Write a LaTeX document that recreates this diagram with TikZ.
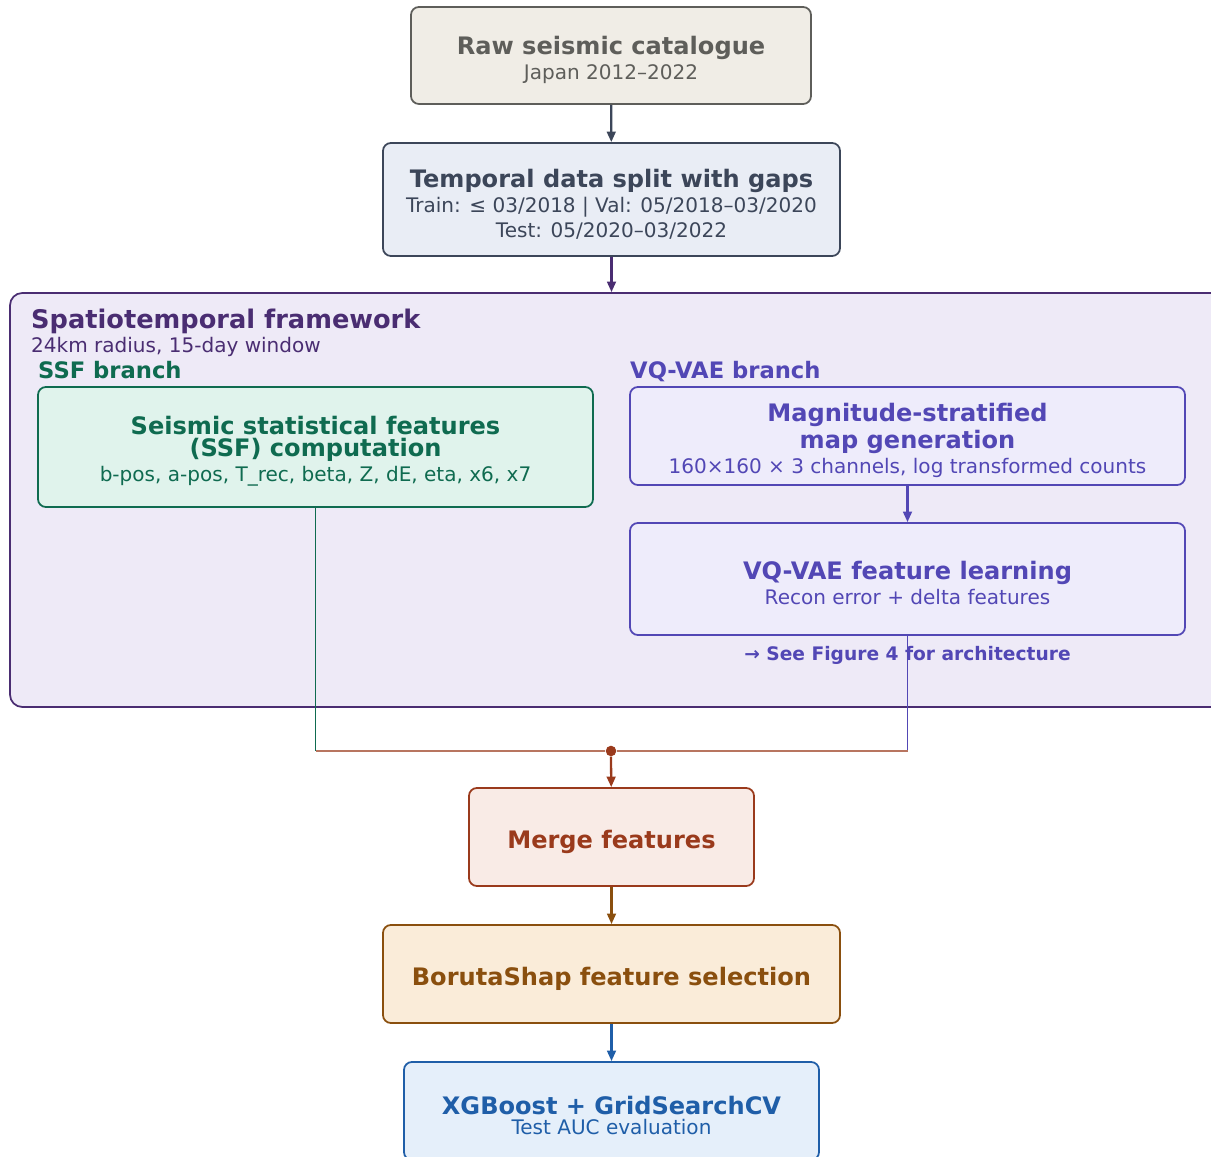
\documentclass[tikz,border=0pt]{standalone}
\usepackage{fontspec}
\setmainfont{DejaVu Sans}
\definecolor{rawgray}{RGB}{94, 94, 90}
\definecolor{rawfill}{RGB}{240, 237, 230}
\definecolor{splitslate}{RGB}{60, 70, 89}
\definecolor{splitfill}{RGB}{233, 237, 245}
\definecolor{framepurple}{RGB}{74, 45, 114}
\definecolor{framefill}{RGB}{238, 234, 247}
\definecolor{ssfgreen}{RGB}{15, 107, 80}
\definecolor{ssffill}{RGB}{224, 243, 236}
\definecolor{vqviolet}{RGB}{82, 71, 181}
\definecolor{vqfill}{RGB}{238, 236, 251}
\definecolor{mergerust}{RGB}{154, 58, 28}
\definecolor{mergefill}{RGB}{249, 235, 230}
\definecolor{borutabrown}{RGB}{138, 79, 14}
\definecolor{borutafill}{RGB}{250, 236, 217}
\definecolor{xgbblue}{RGB}{31, 94, 168}
\definecolor{xgbfill}{RGB}{229, 239, 250}
\usetikzlibrary{arrows.meta, positioning}
\newcommand{\boxtitle}[1]{{\fontsize{13.7}{14.2}\selectfont\bfseries #1}}
\newcommand{\boxhead}[1]{\rule{0pt}{15.5pt}\boxtitle{#1}}
\tikzset{
  stage/.style={draw, rounded corners=4.5pt, line width=1pt, align=center, inner sep=2pt,
    font=\fontsize{11.4}{14.2}\selectfont},
  flow/.style={line width=1.3pt, -{Triangle[length=6pt, width=5pt]}},
  feed/.style={line width=0.9pt},
}

\begin{document}
\begin{tikzpicture}
  \useasboundingbox (0, 0) rectangle (24.22, 23.12);

  % Data preparation
  \node[stage, fill=rawfill, draw=rawgray, text=rawgray, minimum width=8cm, minimum height=1.94cm] (raw) at (12.22, 22.01)
    {\boxhead{Raw seismic catalogue}\\[0.5pt] Japan 2012–2022};
  \node[stage, fill=splitfill, draw=splitslate, text=splitslate, minimum width=9.14cm, minimum height=2.26cm] (split) at (12.23, 19.13)
    {\boxhead{Temporal data split with gaps}\\ Train: ≤ 03/2018 | Val: 05/2018–03/2020\\ Test: 05/2020–03/2022};

  % Spatiotemporal framework container
  \node[draw=framepurple, fill=framefill, rounded corners=7pt, line width=1pt, minimum width=24.4cm, minimum height=8.28cm] (frame) at (12.4, 13.12) {};
  \node[anchor=west, text=framepurple, font=\fontsize{14.6}{16}\selectfont\bfseries] (frametitle) at (0.5, 16.70) {Spatiotemporal framework};
  \node[anchor=west, text=framepurple, font=\fontsize{11.4}{14}\selectfont] (framesub) at (0.5, 16.18) {24km radius, 15-day window};

  % SSF branch
  \node[anchor=west, text=ssfgreen, font=\fontsize{12.9}{14}\selectfont\bfseries] (ssflabel) at (0.64, 15.72) {SSF branch};
  \node[stage, fill=ssffill, draw=ssfgreen, text=ssfgreen, minimum width=11.1cm, minimum height=2.4cm] (ssf) at (6.31, 14.18)
    {\boxhead{Seismic statistical features}\\[-1.6pt] \boxtitle{(SSF) computation}\\ b-pos, a-pos, T\_rec, beta, Z, dE, eta, x6, x7};

  % VQ-VAE branch
  \node[anchor=west, text=vqviolet, font=\fontsize{12.9}{14}\selectfont\bfseries] (vqlabel) at (12.48, 15.68) {VQ-VAE branch};
  \node[stage, fill=vqfill, draw=vqviolet, text=vqviolet, minimum width=11.1cm, minimum height=1.96cm] (mag) at (18.15, 14.40)
    {\boxhead{Magnitude-stratified}\\[1.6pt] \boxtitle{map generation}\\ 160×160 × 3 channels, log transformed counts};
  \node[stage, fill=vqfill, draw=vqviolet, text=vqviolet, minimum width=11.1cm, minimum height=2.24cm] (vq) at (18.15, 11.54)
    {\boxhead{VQ-VAE feature learning}\\ Recon error + delta features};
  \node[text=vqviolet, font=\fontsize{10.6}{13}\selectfont\bfseries] (figref) at (18.15, 10.02) {→ See Figure 4 for architecture};

  % Merge and model
  \node[circle, fill=mergerust, inner sep=0pt, minimum size=6pt] (join) at (12.22, 8.10) {};
  \node[stage, fill=mergefill, draw=mergerust, text=mergerust, minimum width=5.7cm, minimum height=1.96cm] (merge) at (12.23, 6.38)
    {\boxhead{Merge features}};
  \node[stage, fill=borutafill, draw=borutabrown, text=borutabrown, minimum width=9.14cm, minimum height=1.96cm] (boruta) at (12.23, 3.64)
    {\boxhead{BorutaShap feature selection}};
  \node[stage, fill=xgbfill, draw=xgbblue, text=xgbblue, minimum width=8.3cm, minimum height=1.96cm] (xgb) at (12.23, 0.9)
    {\boxhead{XGBoost + GridSearchCV}\\[-3pt] Test AUC evaluation};

  % Connectors
  \draw[flow, splitslate] (raw) -- (split);
  \draw[flow, framepurple] (split.south) -- (split.south |- frame.north);
  \draw[flow, vqviolet] (mag) -- (vq);
  \draw[feed, ssfgreen] (ssf.south) -- (ssf.south |- join);
  \draw[feed, vqviolet] (vq.south) -- (vq.south |- join);
  \draw[feed, mergerust!70] (ssf.south |- join) -- (join) -- (vq.south |- join);
  \draw[flow, mergerust] (join) -- (merge);
  \draw[flow, borutabrown] (merge) -- (boruta);
  \draw[flow, xgbblue] (boruta) -- (xgb);
\end{tikzpicture}
\end{document}
